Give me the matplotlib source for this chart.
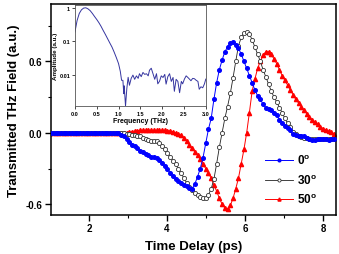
import numpy as np
import matplotlib
matplotlib.use("Agg")
import matplotlib.pyplot as plt
from matplotlib.ticker import MultipleLocator, FixedLocator, FixedFormatter

plt.rcParams['font.family'] = ['Liberation Sans', 'DejaVu Sans']
plt.rcParams['font.weight'] = 'bold'
plt.rcParams['mathtext.fontset'] = 'custom'
plt.rcParams['mathtext.bf'] = 'Liberation Sans:bold'

# time delay grid (ps), 105 samples
t = np.round(1.0 + 0.07 * np.arange(105), 2)

field_0 = [0.0] * 25 + [
    -0.005, -0.015, -0.03, -0.055, -0.08, -0.10, -0.115, -0.13, -0.15, -0.165,
    -0.18, -0.19, -0.20, -0.205, -0.215, -0.23, -0.25, -0.28, -0.30, -0.34,
    -0.365, -0.385, -0.405, -0.42, -0.435, -0.45, -0.465, -0.47, -0.43, -0.37,
    -0.30, -0.21, -0.09, 0.03, 0.12, 0.28, 0.42, 0.53, 0.61, 0.68,
    0.72, 0.755, 0.76, 0.74, 0.71, 0.66, 0.60, 0.54, 0.48, 0.42,
    0.36, 0.31, 0.28, 0.24, 0.21, 0.20, 0.19, 0.17, 0.15, 0.11,
    0.08, 0.06, 0.04, 0.02, -0.01, -0.02, -0.025, -0.03, -0.03, -0.04,
    -0.05, -0.06, -0.06, -0.055, -0.05, -0.05, -0.055, -0.06, -0.05, -0.05]

field_30 = [0.0] * 27 + [
    -0.003, -0.008, -0.012, -0.016, -0.02, -0.025, -0.03, -0.04, -0.05, -0.06,
    -0.065, -0.07, -0.07, -0.085, -0.11, -0.14, -0.17, -0.20, -0.235, -0.26,
    -0.30, -0.34, -0.38, -0.42, -0.455, -0.48, -0.505, -0.525, -0.54, -0.55,
    -0.55, -0.52, -0.47, -0.39, -0.26, -0.12, 0.0, 0.12, 0.22, 0.33,
    0.46, 0.60, 0.73, 0.80, 0.84, 0.85, 0.83, 0.78, 0.72, 0.66,
    0.60, 0.53, 0.47, 0.41, 0.35, 0.30, 0.26, 0.21, 0.17, 0.12,
    0.08, 0.05, 0.01, -0.01, -0.025, -0.035, -0.04, -0.045, -0.05, -0.05,
    -0.05, -0.05, -0.05, -0.05, -0.05, -0.05, -0.05, -0.05]

field_50 = [0.0] * 29 + [
    0.005, 0.01, 0.015, 0.018, 0.02, 0.02, 0.02, 0.02, 0.02, 0.02,
    0.02, 0.02, 0.02, 0.02, 0.018, 0.015, 0.01, 0.0, -0.01, -0.02,
    -0.04, -0.07, -0.10, -0.13, -0.16, -0.19, -0.22, -0.26, -0.30, -0.34,
    -0.38, -0.44, -0.49, -0.55, -0.60, -0.63, -0.64, -0.61, -0.55, -0.47,
    -0.38, -0.26, -0.14, 0.0, 0.17, 0.35, 0.45, 0.54, 0.60, 0.65,
    0.68, 0.68, 0.66, 0.62, 0.58, 0.53, 0.48, 0.44, 0.40, 0.36,
    0.32, 0.28, 0.25, 0.22, 0.19, 0.16, 0.13, 0.11, 0.09, 0.07,
    0.05, 0.035, 0.025, 0.015, 0.005, -0.01]

# inset: spectrum
freq = [0.0, 0.05, 0.1, 0.15, 0.2, 0.25, 0.3, 0.35, 0.4, 0.45, 0.5, 0.55,
        0.6, 0.65, 0.7, 0.75, 0.8, 0.85, 0.9, 0.95, 1.0, 1.04, 1.07, 1.1,
        1.12, 1.13, 1.16, 1.19, 1.22, 1.25, 1.29, 1.33, 1.37, 1.41, 1.45,
        1.48, 1.52, 1.56, 1.6, 1.64, 1.68, 1.71, 1.75, 1.79, 1.83, 1.87,
        1.9, 1.94, 1.98, 2.02, 2.06, 2.09, 2.13, 2.17, 2.21, 2.25, 2.28,
        2.32, 2.36, 2.4, 2.44, 2.47, 2.51, 2.55, 2.59, 2.63, 2.66, 2.7,
        2.74, 2.78, 2.82, 2.85, 2.89, 2.93, 2.97, 3.0]
amp = [0.19, 0.42, 0.68, 0.87, 0.98, 1.0, 0.93, 0.82, 0.68, 0.55, 0.45, 0.36,
       0.28, 0.21, 0.16, 0.12, 0.09, 0.068, 0.048, 0.033, 0.022, 0.013, 0.007,
       0.007, 0.0028, 0.0048, 0.0012, 0.004, 0.0086, 0.005, 0.008, 0.01,
       0.0075, 0.0095, 0.008, 0.011, 0.009, 0.012, 0.0105, 0.011, 0.0095,
       0.014, 0.016, 0.011, 0.0075, 0.011, 0.0055, 0.0066, 0.0095, 0.0085,
       0.0105, 0.0054, 0.009, 0.011, 0.0065, 0.0085, 0.0033, 0.0075, 0.0065,
       0.003, 0.0065, 0.0055, 0.0076, 0.0095, 0.0085, 0.0075, 0.0068, 0.008,
       0.0078, 0.007, 0.0065, 0.0038, 0.0045, 0.0042, 0.0055, 0.0076]

fig = plt.figure(figsize=(3.39, 2.55), dpi=100)
ax = fig.add_axes([0.150, 0.153, 0.840, 0.827])

ax.plot(t, field_0, color='#0000ff', lw=0.7, marker='o', ms=2.6,
        mec='#0000ff', mfc='#0000ff', label=r'0$^{\mathbf{o}}$', zorder=3)
ax.plot(t, field_30, color='#222222', lw=0.6, marker='o', ms=3.0,
        mec='#333333', mfc='white', mew=0.6, label=r'30$^{\mathbf{o}}$',
        zorder=2)
ax.plot(t, field_50, color='#ff0000', lw=0.7, marker='^', ms=3.0,
        mec='#ff0000', mfc='#ff0000', label=r'50$^{\mathbf{o}}$', zorder=1)

ax.set_xlim(1.02, 8.32)
ax.set_ylim(-0.69, 1.08)
ax.xaxis.set_major_locator(MultipleLocator(2))
ax.xaxis.set_minor_locator(MultipleLocator(1))
ax.yaxis.set_major_locator(FixedLocator([-0.6, 0.0, 0.6]))
ax.yaxis.set_major_formatter(FixedFormatter(['-0.6', '0.0', '0.6']))
ax.yaxis.set_minor_locator(FixedLocator([-0.3, 0.3, 0.9]))
ax.tick_params(which='major', direction='out', length=4, width=1.0,
               labelsize=7, pad=2)
ax.tick_params(which='minor', direction='out', length=2.5, width=0.8)
for s in ax.spines.values():
    s.set_linewidth(1.1)
ax.set_xlabel('Time Delay (ps)', fontsize=9.5, fontweight='bold', labelpad=5)
ax.set_ylabel('Transmitted THz Field (a.u.)', fontsize=9.5, fontweight='bold',
              labelpad=4)

ax.legend(loc='upper left', bbox_to_anchor=(0.782, 0.395),
          bbox_transform=fig.transFigure, frameon=False, markerscale=0.75,
          borderaxespad=0, borderpad=0, handlelength=2.4, handletextpad=0.3,
          labelspacing=0.5, prop={'weight': 'bold', 'size': 8.5})

ins = fig.add_axes([0.221, 0.580, 0.386, 0.396])
ins.plot(freq, amp, color='#3535a0', lw=0.7)
ins.set_yscale('log')
ins.set_xlim(0, 3.0)
ins.set_ylim(0.0012, 1.2)
ins.xaxis.set_major_locator(MultipleLocator(0.5))
ins.yaxis.set_major_locator(FixedLocator([0.01, 0.1, 1]))
ins.yaxis.set_major_formatter(FixedFormatter(['0.01', '0.1', '1']))
ins.yaxis.set_minor_locator(FixedLocator([]))
ins.tick_params(which='major', direction='out', length=2, width=0.5,
                labelsize=4, pad=1.5)
for s in ins.spines.values():
    s.set_linewidth(0.6)
    s.set_color('#555555')
ins.set_xlabel('Frequency (THz)', fontsize=5, fontweight='bold', labelpad=1)
ins.set_ylabel('Amplitude (a.u.)', fontsize=4.5, fontweight='bold', labelpad=1)

fig.savefig('out.png', dpi=100)
